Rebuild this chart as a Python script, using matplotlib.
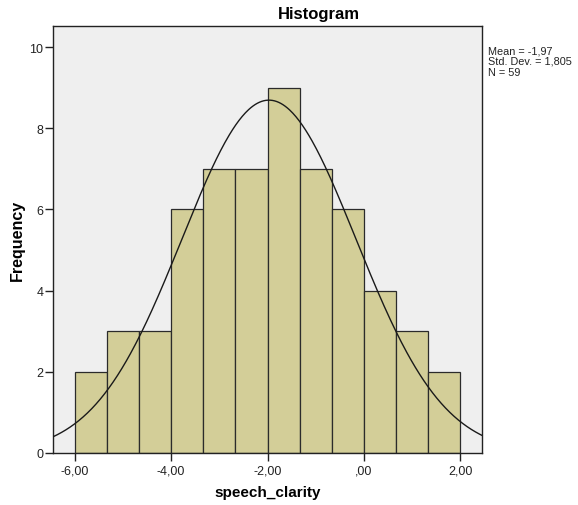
import numpy as np
import matplotlib
matplotlib.use("Agg")
import matplotlib.pyplot as plt
from matplotlib.ticker import FuncFormatter

plt.rcParams['font.family'] = ['Liberation Sans', 'DejaVu Sans']

# Histogram of speech_clarity
bin_edges = [-6.0, -5.3333, -4.6667, -4.0, -3.3333, -2.6667, -2.0,
             -1.3333, -0.6667, 0.0, 0.6667, 1.3333, 2.0]
counts = [2, 3, 3, 6, 7, 7, 9, 7, 6, 4, 3, 2]
mean = -1.97
std = 1.805
n = 59
x_ticks = [-6.0, -4.0, -2.0, 0.0, 2.0]
y_ticks = [0, 2, 4, 6, 8, 10]
stats_lines = ["Mean = -1,97", "Std. Dev. = 1,805", "N = 59"]

fig = plt.figure(figsize=(5.78, 5.06), dpi=100)
ax = fig.add_axes([53 / 578, 1 - 454 / 506, (482 - 53) / 578, (454 - 27) / 506])
ax.set_facecolor('#EFEFEF')

edges = np.array(bin_edges)
widths = np.diff(edges)
ax.bar(edges[:-1], counts, width=widths, align='edge', color='#D3CE98',
       edgecolor='#2b2b2b', linewidth=0.9, zorder=2)

# Normal curve scaled to the counts
bw = widths.mean()
xs = np.linspace(-6.45, 2.45, 400)
ys = n * bw / (std * np.sqrt(2 * np.pi)) * np.exp(-0.5 * ((xs - mean) / std) ** 2)
ax.plot(xs, ys, color='#1a1a1a', linewidth=1.0, zorder=3)

ax.set_xlim(-6.45, 2.45)
ax.set_ylim(0, 10.52)
ax.set_xticks(x_ticks)
ax.set_yticks(y_ticks)


def comma_fmt(v, pos):
    s = f"{v:.2f}".replace('.', ',')
    if s.startswith('0,'):
        s = s[1:]
    return s


ax.xaxis.set_major_formatter(FuncFormatter(comma_fmt))
ax.tick_params(axis='both', direction='out', length=6, width=1, labelsize=9,
               colors='#222222')
ax.tick_params(axis='x', pad=2)
ax.tick_params(axis='y', pad=1)
for sp in ax.spines.values():
    sp.set_color('#222222')
    sp.set_linewidth(1.0)

ax.set_xlabel('speech_clarity', fontsize=11, fontweight='bold', va='center')
ax.xaxis.set_label_coords(0.5, -(493 - 454) / 427)
ax.set_ylabel('Frequency', fontsize=11.5, fontweight='bold', va='center')
ax.yaxis.set_label_coords(-(53 - 17) / 429, 0.5)

fig.text(319 / 578, 1 - 14 / 506, 'Histogram', ha='center', va='center',
         fontsize=12, fontweight='bold')

fig.text(488 / 578, 1 - 46 / 506, "\n".join(stats_lines),
         ha='left', va='top', fontsize=7.8, linespacing=1.1, color='#222222')

fig.savefig('out.png', dpi=100)
